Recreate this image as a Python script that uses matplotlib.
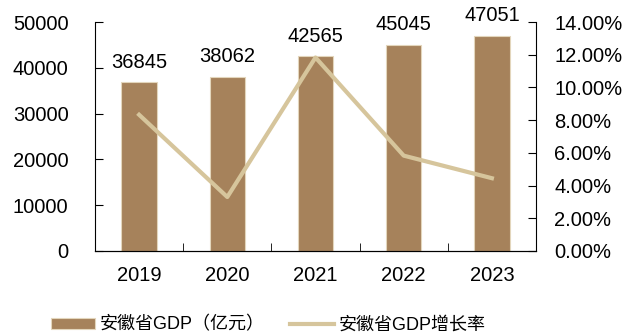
import matplotlib
matplotlib.use('Agg')
import matplotlib.pyplot as plt
import numpy as np
from matplotlib.ticker import FuncFormatter, FixedLocator

plt.rcParams['font.family'] = ['Liberation Sans', 'Noto Sans CJK SC', 'DejaVu Sans']

years = ['2019', '2020', '2021', '2022', '2023']
gdp = [36845, 38062, 42565, 45045, 47051]
growth = [8.33, 3.30, 11.83, 5.83, 4.45]  # %

bar_color = '#A6825B'
line_color = '#D6C59C'
fs = 14.5

fig = plt.figure(figsize=(6.3, 3.36), dpi=100)
ax = fig.add_axes([95 / 630, 1 - 251 / 336, 441 / 630, 229 / 336])
x = np.arange(len(years))

ax.bar(x, gdp, width=0.40, color=bar_color, edgecolor='#E3D6BC', linewidth=0.8,
       label='安徽省GDP（亿元）', zorder=2)
for xi, v in zip(x, gdp):
    ax.text(xi, v + 2300, f'{v}', ha='center', va='bottom', fontsize=fs)

ax.set_xlim(-0.5, len(years) - 0.5)
ax.set_ylim(0, 50000)
ax.set_yticks(range(0, 50001, 10000))
ax.set_xticks(x)
ax.set_xticklabels(years)
ax.xaxis.set_minor_locator(FixedLocator(np.arange(0.5, len(years) - 1, 1.0)))
ax.tick_params(axis='x', which='major', length=0, pad=11, labelsize=fs)
ax.tick_params(axis='x', which='minor', direction='in', length=6, color='black')
ax.tick_params(axis='y', direction='in', length=6, labelsize=fs, pad=19)
ax.spines['top'].set_visible(False)
ax.spines['right'].set_visible(False)

ax2 = ax.twinx()
ax2.plot(x, growth, color=line_color, linewidth=3, label='安徽省GDP增长率', zorder=3)
ax2.set_ylim(0, 14)
ax2.set_yticks(range(0, 15, 2))
ax2.yaxis.set_major_formatter(FuncFormatter(lambda v, _: f'{v:.2f}%'))
ax2.tick_params(axis='y', direction='in', length=6, labelsize=fs, pad=13)
ax2.spines['top'].set_visible(False)
ax2.spines['left'].set_visible(False)

h1, l1 = ax.get_legend_handles_labels()
h2, l2 = ax2.get_legend_handles_labels()
fig.legend(h1 + h2, l1 + l2, loc='center left', bbox_to_anchor=(35 / 630, 1 - 325 / 336),
           ncol=2, frameon=False, fontsize=13, handlelength=2.4, handleheight=0.6,
           columnspacing=1.4, handletextpad=0.3)

plt.savefig('out.png', dpi=100)
